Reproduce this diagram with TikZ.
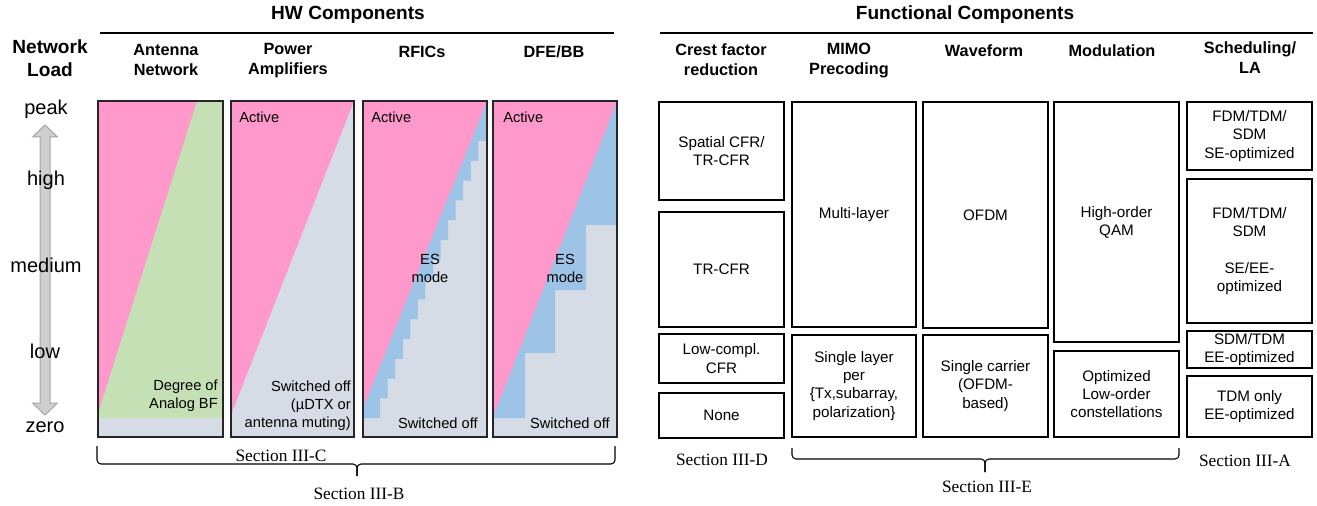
\documentclass[tikz,border=0pt]{standalone}
\usepackage{fontspec}
\setmainfont{Liberation Sans}
\newfontfamily\serifsec{Liberation Serif}
\usetikzlibrary{fit}
\definecolor{pinkc}{HTML}{FF99CC}
\definecolor{greenc}{HTML}{C5E0B4}
\definecolor{grayc}{HTML}{D6DCE5}
\definecolor{bluec}{HTML}{9DC3E6}
\definecolor{arrowc}{HTML}{D0CECE}
\definecolor{arrowb}{HTML}{A6A6A6}
\definecolor{framec}{HTML}{262626}
\tikzset{
  hdr/.style={font=\fontsize{12.2}{15}\selectfont\bfseries, align=center},
  big/.style={font=\fontsize{14.3}{17.5}\selectfont\bfseries, align=center},
  axl/.style={font=\fontsize{15}{18}\selectfont},
  body/.style={font=\fontsize{11}{13.5}\selectfont, align=center, inner sep=0pt},
  rbody/.style={font=\fontsize{11.4}{13.6}\selectfont, align=center, inner sep=0pt},
  sec/.style={font=\serifsec\fontsize{13}{15}\selectfont},
  panel/.style={draw=framec, line width=1.5pt, inner sep=0pt},
  fbox/.style={draw=black, line width=1.1pt, inner sep=0pt},
  ruleline/.style={line width=1.9pt, black},
  bracec/.style={line width=0.8pt, rounded corners=3pt},
}
\begin{document}
\begin{tikzpicture}[x=0.75pt, y=-0.75pt]
\useasboundingbox (0,0) rectangle (1317,506);

% ---------------- headers left
\node[big] (hw) at (348,15) {HW Components};
\draw[ruleline] (100,33) -- (614,33);
\node[big] (nl) at (50,58) {Network\\Load};
\node[hdr] (h1) at (166,60) {Antenna\\Network};
\node[hdr] (h2) at (288,61) {Power\\Amplifiers};
\node[hdr] (h3) at (422,52) {RFICs};
\node[hdr] (h4) at (554,52) {DFE/BB};

% ---------------- axis
\path[fill=arrowc, draw=arrowb, line width=0.75pt]
  (45,125) -- (57.5,137) -- (50,137) -- (50,403) -- (57.5,403) -- (45,415)
  -- (32.5,403) -- (40,403) -- (40,137) -- (32.5,137) -- cycle;
\node[axl] (apeak) at (46,109) {peak};
\node[axl] (ahigh) at (46,180) {high};
\node[axl] (amed) at (46,265) {medium};
\node[axl] (alow) at (45,351) {low};
\node[axl] (azero) at (45,427) {zero};

% ---------------- panel 1
\fill[greenc] (98,101) rectangle (223,437);
\fill[grayc] (98,418) rectangle (223,437);
\fill[pinkc] (98,101) -- (197,101) -- (98,413) -- cycle;
\node[panel, fit={(98,101) (223,437)}] (p1) {};
\node[body, align=right, anchor=east] (t1) at (218,396) {Degree of\\Analog BF};

% ---------------- panel 2
\fill[grayc] (231,101) rectangle (354,437);
\fill[pinkc] (231,101) -- (354,101) -- (231,415) -- cycle;
\node[panel, fit={(231,101) (354,437)}] (p2) {};
\node[body, anchor=west] (t2a) at (239,117) {Active};
\node[body, align=right, anchor=east] (t2b) at (351,406) {Switched off\\(µDTX or\\antenna muting)};

% ---------------- panel 3
\fill[grayc] (363,101) rectangle (487,437);
\fill[bluec] (363,101) -- (487,101) -- (487,141)
  \foreach \k in {0,...,13}{ -- ({478.3-7.55*\k},{141+19.8*\k}) -- ({478.3-7.55*\k},{141+19.8*(\k+1)}) }
  -- (363,418.2) -- cycle;
\fill[pinkc] (363,101) -- (487,101) -- (363,408) -- cycle;
\node[panel, fit={(363,101) (487,437)}] (p3) {};
\node[body, anchor=west] (t3a) at (371,117) {Active};
\node[body] (t3b) at (430,268) {ES\\mode};
\node[body, anchor=east] (t3c) at (478,423) {Switched off};

% ---------------- panel 4
\fill[grayc] (493,101) rectangle (617,437);
\fill[bluec] (493,101) -- (617,101) -- (617,225) -- (586,225) -- (586,290)
  -- (555,290) -- (555,353) -- (525,353) -- (525,418) -- (493,418) -- cycle;
\fill[pinkc] (493,101) -- (617,101) -- (493,417) -- cycle;
\node[panel, fit={(493,101) (617,437)}] (p4) {};
\node[body, anchor=west] (t4a) at (503,117) {Active};
\node[body] (t4b) at (565,268) {ES\\mode};
\node[body, anchor=east] (t4c) at (610,423) {Switched off};

% ---------------- left braces
\coordinate (lbL) at (97,446);
\coordinate (lbR) at (615,446);
\coordinate (lbT) at (357,476);
\draw[bracec] (lbL) -- (97,464) -- (357,464) -- (lbT);
\draw[bracec] (lbR) -- (615,464) -- (357,464) -- (lbT);
\node[sec] (s3c) at (281,456) {Section III-C};
\node[sec] (s3b) at (359,494) {Section III-B};

% ---------------- headers right
\node[big] (fc) at (965,15) {Functional Components};
\draw[ruleline] (660,33) -- (1313,33);
\node[hdr] (r1) at (721,60) {Crest factor\\reduction};
\node[hdr] (r2) at (849,61) {MIMO\\Precoding};
\node[hdr] (r3) at (984,51) {Waveform};
\node[hdr] (r4) at (1112,51) {Modulation};
\node[hdr] (r5) at (1250,58) {Scheduling/\\LA};

% ---------------- right boxes
\node[fbox, fit={(659,102) (784,200)}] (c1) {};
\node[rbody] (c1t) at (c1.center) {Spatial CFR/\\TR-CFR};
\node[fbox, fit={(659,212) (784,327)}] (c2) {};
\node[rbody] (c2t) at (c2.center) {TR-CFR};
\node[fbox, fit={(659,334) (784,383)}] (c3) {};
\node[rbody] (c3t) at (c3.center) {Low-compl.\\CFR};
\node[fbox, fit={(659,393) (784,438)}] (c4) {};
\node[rbody] (c4t) at (c4.center) {None};

\node[fbox, fit={(792,102) (916,327)}] (m1) {};
\node[rbody] (m1t) at (m1.center) {Multi-layer};
\node[fbox, fit={(792,335) (916,437)}] (m2) {};
\node[rbody] (m2t) at (m2.center) {Single layer\\per\\\{Tx,subarray,\\polarization\}};

\node[fbox, fit={(923,102) (1048,328)}] (w1) {};
\node[rbody] (w1t) at (w1.center) {OFDM};
\node[fbox, fit={(923,335) (1048,437)}] (w2) {};
\node[rbody] (w2t) at (w2.center) {Single carrier\\(OFDM-\\based)};

\node[fbox, fit={(1054,102) (1179,342)}] (q1) {};
\node[rbody] (q1t) at (q1.center) {High-order\\QAM};
\node[fbox, fit={(1054,351) (1179,437)}] (q2) {};
\node[rbody] (q2t) at (q2.center) {Optimized\\Low-order\\constellations};

\node[fbox, fit={(1187,102) (1312,170)}] (s1) {};
\node[rbody] (s1t) at (s1.center) {FDM/TDM/\\SDM\\SE-optimized};
\node[fbox, fit={(1187,179) (1312,323)}] (s2) {};
\node[rbody] (s2t) at (s2.center) {FDM/TDM/\\SDM\\[13.6pt]SE/EE-\\optimized};
\node[fbox, fit={(1187,331) (1312,368)}] (s3) {};
\node[rbody] (s3t) at (s3.center) {SDM/TDM\\EE-optimized};
\node[fbox, fit={(1187,376) (1312,437)}] (s4) {};
\node[rbody] (s4t) at (s4.center) {TDM only\\EE-optimized};

% ---------------- right braces
\coordinate (rbL) at (792,448);
\coordinate (rbR) at (1179,448);
\coordinate (rbT) at (985,472);
\draw[bracec] (rbL) -- (792,459) -- (985,459) -- (rbT);
\draw[bracec] (rbR) -- (1179,459) -- (985,459) -- (rbT);
\node[sec] (s3d) at (722,460) {Section III-D};
\node[sec] (s3e) at (987,487) {Section III-E};
\node[sec] (s3a) at (1245,461) {Section III-A};
\end{tikzpicture}
\end{document}
